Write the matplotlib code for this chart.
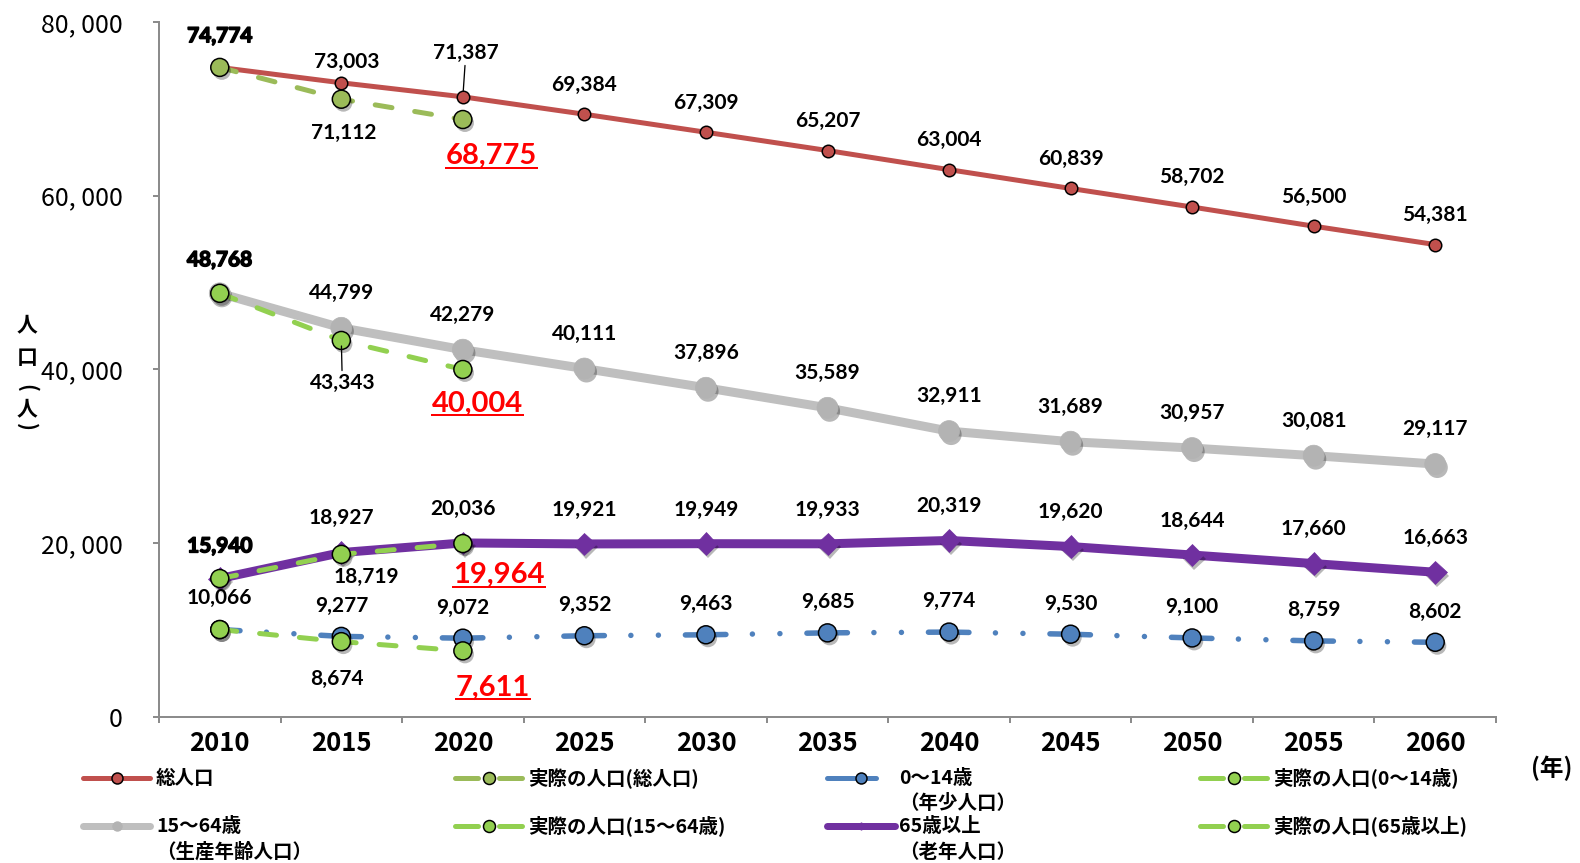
import matplotlib
matplotlib.use("Agg")
import matplotlib.pyplot as plt
import matplotlib.patheffects as pe
from matplotlib.lines import Line2D
from matplotlib.transforms import IdentityTransform
import numpy as np

# ---------------- data ----------------
years = ["2010", "2015", "2020", "2025", "2030", "2035", "2040", "2045", "2050", "2055", "2060"]
total_pop = [74774, 73003, 71387, 69384, 67309, 65207, 63004, 60839, 58702, 56500, 54381]
working_pop = [48768, 44799, 42279, 40111, 37896, 35589, 32911, 31689, 30957, 30081, 29117]
elderly_pop = [15940, 18927, 20036, 19921, 19949, 19933, 20319, 19620, 18644, 17660, 16663]
young_pop = [10066, 9277, 9072, 9352, 9463, 9685, 9774, 9530, 9100, 8759, 8602]

actual_years = ["2010", "2015", "2020"]
actual_total = [74774, 71112, 68775]
actual_working = [48768, 43343, 40004]
actual_elderly = [15940, 18719, 19964]
actual_young = [10066, 8674, 7611]

y_ticks = [0, 20000, 40000, 60000, 80000]

lab_total = "総人口"
lab_act_total = "実際の人口(総人口)"
lab_young = ["0〜14歳", "（年少人口）"]
lab_act_young = "実際の人口(0〜14歳)"
lab_working = ["15〜64歳", "（生産年齢人口）"]
lab_act_working = "実際の人口(15〜64歳)"
lab_elderly = ["65歳以上", "（老年人口）"]
lab_act_elderly = "実際の人口(65歳以上)"
ylabel_chars = ["人", "口", "(", "人", ")"]
xunit = "(年)"

# ---------------- style ----------------
plt.rcParams["lines.scale_dashes"] = False
JP = ["Noto Sans CJK JP", "DejaVu Sans"]
NUM = ["Lato", "DejaVu Sans"]
TICKF = ["Noto Sans CJK JP", "DejaVu Sans"]
plt.rcParams["font.family"] = JP

W, H = 1580, 863
PT = 0.72  # points per pixel at dpi 100

RED = "#C0504D"
GRAY = "#BFBFBF"
GRAYM = "#B3B3B3"
PURPLE = "#7030A0"
BLUE = "#4F81BD"
OLIVE = "#9BBB59"
LGREEN = "#92D050"
AXC = "#8C8C8C"


def fx(px):
    return px / W


def fy(py):
    return 1 - py / H


shadow = [pe.SimplePatchShadow(offset=(1.5, -2.5), shadow_rgbFace="black", alpha=0.28), pe.Normal()]
heavy = [pe.withStroke(linewidth=1.1, foreground="black")]

fig = plt.figure(figsize=(W / 100, H / 100), dpi=100)
ax = fig.add_axes([fx(159), fy(717), (1496 - 159) / W, (717 - 22) / H])
ax.set_xlim(-0.5, len(years) - 0.5)
ax.set_ylim(0, 80000)

x = np.arange(len(years))
xa = np.array([years.index(y) for y in actual_years])

# projection lines
ax.plot(x, total_pop, color=RED, lw=5 * PT, zorder=2, solid_capstyle="butt")
ax.plot(x, total_pop, ls="none", marker="o", ms=12.5 * PT, mfc=RED, mec="black", mew=1.5 * PT, zorder=3)

ax.plot(x, working_pop, color=GRAY, lw=9 * PT, zorder=2)
ax.plot(x, working_pop, ls="none", marker="o", ms=21 * PT, mfc=GRAYM, mec=GRAYM, mew=0.5,
        zorder=3, path_effects=shadow)

ax.plot(x, elderly_pop, color=PURPLE, lw=9 * PT, zorder=2)
ax.plot(x, elderly_pop, ls="none", marker="D", ms=16 * PT, mfc=PURPLE, mec=PURPLE, mew=0.5,
        zorder=3, path_effects=shadow)

blue_dash = (20.25 * PT, (40.5 * PT, 26.5 * PT, 0.01, 27.5 * PT, 0.01, 27 * PT))
ax.plot(x, young_pop, color=BLUE, lw=5.5 * PT, ls=blue_dash, dash_capstyle="round", zorder=2)
ax.plot(x, young_pop, ls="none", marker="o", ms=18 * PT, mfc=BLUE, mec="black", mew=1.5 * PT,
        zorder=3, path_effects=shadow)

# actual lines
green_dash = (0, (17 * PT, 23 * PT))
for vals, col in [(actual_total, OLIVE), (actual_working, LGREEN),
                  (actual_elderly, LGREEN), (actual_young, LGREEN)]:
    ax.plot(xa, vals, color=col, lw=5 * PT, ls=green_dash, dash_capstyle="round", zorder=4)
    ax.plot(xa, vals, ls="none", marker="o", ms=18 * PT, mfc=col, mec="black", mew=1.5 * PT,
            zorder=5, path_effects=shadow)

# ---------------- value labels ----------------
red_texts = []


def put(i, v, dx, dy, size=15, color="black", leader=False, bold_extra=False):
    lift = 0.09 * size / PT  # digits sit above bbox centre
    kw = {}
    if leader:
        kw["arrowprops"] = dict(arrowstyle="-", color="black", lw=1.3 * PT, shrinkA=0, shrinkB=4)
    t = ax.annotate(f"{v:,}", xy=(i, v), xytext=(dx * PT, (dy - lift) * PT), textcoords="offset points",
                    ha="center", va="center", fontsize=size, fontweight="bold", color=color,
                    fontfamily=NUM, zorder=6, **kw)
    if bold_extra:
        t.set_path_effects(heavy)
    return t


total_off = {0: (0, 33), 1: (5, 22.5), 2: (3, 46)}
for i, v in enumerate(total_pop):
    dx, dy = total_off.get(i, (0, 31.5))
    put(i, v, dx, dy, leader=(i == 2), bold_extra=(i == 0))

for i, v in enumerate(working_pop):
    dx, dy = (0, 35) if i == 0 else (0, 36.5)
    put(i, v, dx, dy, bold_extra=(i == 0))

for i, v in enumerate(elderly_pop):
    dx, dy = (0, 34) if i == 0 else (0, 36)
    put(i, v, dx, dy, bold_extra=(i == 0))

for i, v in enumerate(young_pop):
    dx, dy = (0, 33) if i == 0 else (0, 32.5)
    put(i, v, dx, dy)

act_off = [
    (actual_total, (2, -32), (29, -34), False),
    (actual_working, (1, -41), (15, -32), True),
    (actual_elderly, (25, -21), (36, -29), False),
    (actual_young, (-4, -35.5), (30, -34), False),
]
for vals, o1, o2, lead in act_off:
    put(xa[1], vals[1], o1[0], o1[1], leader=lead)
    red_texts.append(put(xa[2], vals[2], o2[0], o2[1], size=21, color="#FF0000"))

# ---------------- axes styling ----------------
for s in ["top", "right"]:
    ax.spines[s].set_visible(False)
for s in ["left", "bottom"]:
    ax.spines[s].set_color(AXC)
    ax.spines[s].set_linewidth(2 * PT)

ax.set_xticks(x)
ax.set_xticklabels(years, fontfamily=TICKF, fontsize=18.5, fontweight="bold")
ax.set_xticks(np.arange(-0.5, len(years)), minor=True)
ax.tick_params(axis="x", which="major", length=0, pad=9)
ax.tick_params(axis="x", which="minor", length=6 * PT, width=2 * PT, color=AXC, direction="out")

ax.set_yticks(y_ticks)
ax.set_yticklabels([f"{v:,}".replace(",", ", ") for v in y_ticks], fontfamily=TICKF, fontsize=18)
ax.tick_params(axis="y", length=6 * PT, width=2 * PT, color=AXC, direction="out", pad=30 * PT)

# y label (stacked vertically)
ylab_pos = [325, 357, 388, 409, 427]
for ch, py in zip(ylabel_chars, ylab_pos):
    rot = -90 if ch in "()" else 0
    fig.text(fx(27), fy(py), ch, ha="center", va="center", rotation=rot, fontsize=15,
             fontweight="bold", fontfamily=JP)

fig.text(fx(1552), fy(768), xunit, ha="center", va="center", fontsize=17, fontweight="bold", fontfamily=JP)

# ---------------- legend (manual layout) ----------------
def leg_line(x0, x1, y, **kw):
    fig.add_artist(Line2D([fx(x0), fx(x1)], [fy(y), fy(y)], transform=fig.transFigure, **kw))


def leg_marker(xm, y, **kw):
    fig.add_artist(Line2D([fx(xm)], [fy(y)], transform=fig.transFigure, ls="none", **kw))


def leg_text(x0, y, s):
    fig.text(fx(x0), fy(y), s, ha="left", va="center", fontsize=14, fontweight="bold", fontfamily=JP)


def leg_actual(x0, y, col, label):
    leg_line(x0, x0 + 23, y, color=col, lw=5 * PT, solid_capstyle="round")
    leg_line(x0 + 44, x0 + 67, y, color=col, lw=5 * PT, solid_capstyle="round")
    leg_marker(x0 + 34, y, marker="o", ms=12 * PT, mfc=col, mec="black", mew=1.5 * PT)
    leg_text(x0 + 73, y, label)


r1, r2 = 778, 826
# col 1
leg_line(83, 150, r1, color=RED, lw=5 * PT, solid_capstyle="round")
leg_marker(117, r1, marker="o", ms=11 * PT, mfc=RED, mec="black", mew=1.5 * PT)
leg_text(156, r1, lab_total)
leg_line(83, 150, r2, color=GRAY, lw=7 * PT, solid_capstyle="round")
leg_marker(117, r2, marker="o", ms=9 * PT, mfc=GRAYM, mec=GRAYM)
leg_text(156, r2, lab_working[0])
leg_text(156, r2 + 26, lab_working[1])
# col 2
leg_actual(455, r1, OLIVE, lab_act_total)
leg_actual(455, r2, LGREEN, lab_act_working)
# col 3
leg_line(827, 876, r1, color=BLUE, lw=5 * PT, solid_capstyle="round")
leg_marker(861, r1, marker="o", ms=11 * PT, mfc=BLUE, mec="black", mew=1.5 * PT)
leg_text(899, r1, lab_young[0])
leg_text(899, r1 + 25, lab_young[1])
leg_line(827, 895, r2, color=PURPLE, lw=7 * PT, solid_capstyle="round")
leg_marker(861, r2, marker="D", ms=5 * PT, mfc=PURPLE, mec=PURPLE)
leg_text(899, r2, lab_elderly[0])
leg_text(899, r2 + 26, lab_elderly[1])
# col 4
leg_actual(1200, r1, LGREEN, lab_act_young)
leg_actual(1200, r2, LGREEN, lab_act_elderly)

# ---------------- underline the red numbers ----------------
fig.canvas.draw()
renderer = fig.canvas.get_renderer()
for t in red_texts:
    bb = t.get_window_extent(renderer)
    w, h, d = renderer.get_text_width_height_descent(t.get_text(), t.get_fontproperties(), ismath=False)
    yl = bb.y0 + d - 2.5
    fig.add_artist(Line2D([bb.x0, bb.x1], [yl, yl], transform=IdentityTransform(), color="#FF0000",
                          lw=2 * PT))

fig.savefig("out.png", dpi=100)
